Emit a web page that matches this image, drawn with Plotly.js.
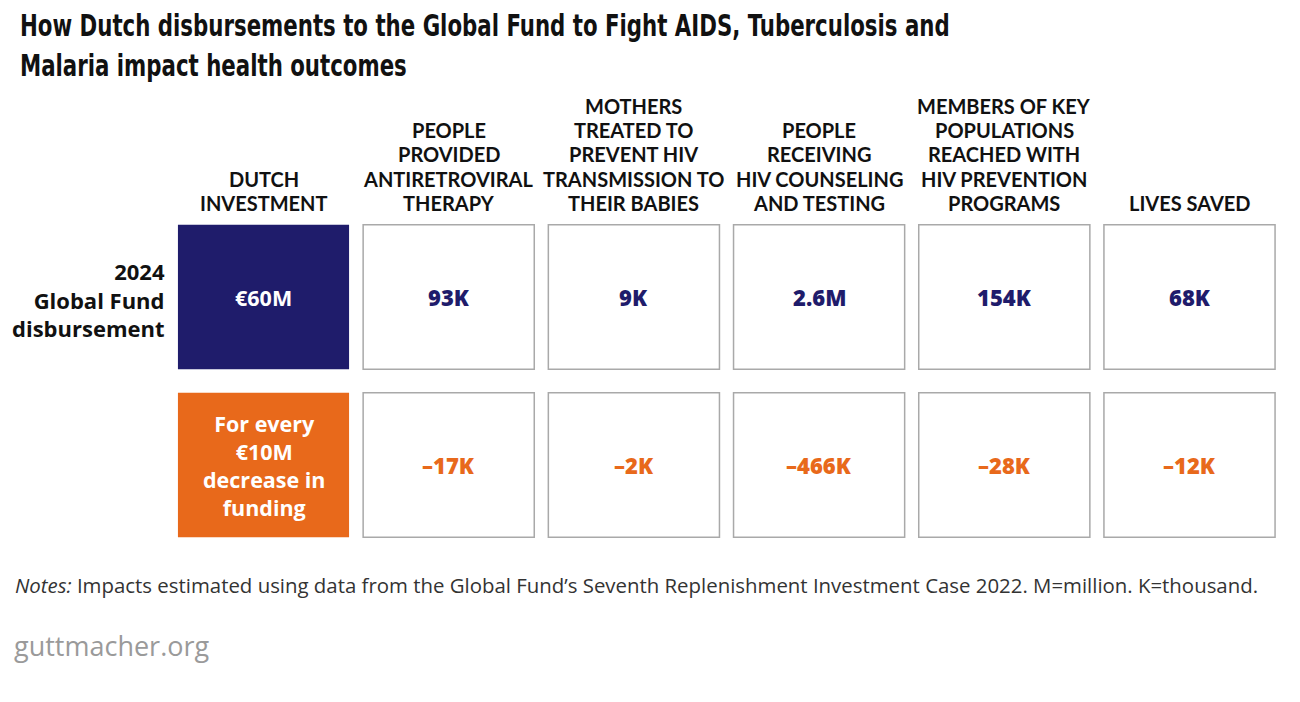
<!DOCTYPE html>
<html>
<head>
<meta charset="utf-8">
<script src="https://cdn.plot.ly/plotly-3.0.1.min.js"></script>
<style>html,body{margin:0;padding:0;background:#fff;}#chart{width:1300px;height:702px;}</style>
</head>
<body>
<div id="chart"></div>
<script>
// ---- data ----
const columnHeaders = [
  "DUTCH<br>INVESTMENT",
  "PEOPLE<br>PROVIDED<br>ANTIRETROVIRAL<br>THERAPY",
  "MOTHERS<br>TREATED TO<br>PREVENT HIV<br>TRANSMISSION TO<br>THEIR BABIES",
  "PEOPLE<br>RECEIVING<br>HIV COUNSELING<br>AND TESTING",
  "MEMBERS OF KEY<br>POPULATIONS<br>REACHED WITH<br>HIV PREVENTION<br>PROGRAMS",
  "LIVES SAVED"
];
const rowLabels = ["2024<br>Global Fund<br>disbursement", ""];
const investmentLabels = ["€60M", "For every<br>€10M<br>decrease in<br>funding"];
const disbursementImpact = ["93K", "9K", "2.6M", "154K", "68K"];
const decreaseImpact = ["\u201317K", "\u20132K", "\u2013466K", "\u201328K", "\u201312K"];
const titleText = "How Dutch disbursements to the Global Fund to Fight AIDS, Tuberculosis and<br>Malaria impact health outcomes";
const notesText = "<i>Notes:</i> Impacts estimated using data from the Global Fund’s Seventh Replenishment Investment Case 2022. M=million. K=thousand.";
const sourceText = "guttmacher.org";

// ---- styles ----
const NAVY = "#1f1c6b";
const ORANGE = "#e8691b";
const BORDER = "#a9a9a9";
const rowFills = [NAVY, ORANGE];
const rowTextColors = [NAVY, ORANGE];
const halfW = 0.462, halfH = 0.43;
const BODY_FONT = "'Open Sans', Lato, sans-serif";
const HEAD_FONT = "Lato, 'Open Sans', sans-serif";

const pxPerX = 185.2, x0px = 263.5;
const pxPerY = 168, y0px = 297;
const headLinePx = 24.3;      // header line spacing in pixels
const headBottomPx = 203;     // centre of the last header line

const shapes = [];
const annotations = [];
const impactRows = [disbursementImpact, decreaseImpact];

// title (as annotation, condensed after render)
annotations.push({x: 18/1300, y: 1 - 5/702, xref: "paper", yref: "paper", showarrow: false,
  xanchor: "left", yanchor: "top", align: "left",
  text: "<b>" + titleText + "</b>",
  font: {family: "'DejaVu Sans Condensed', 'DejaVu Sans', sans-serif", size: 31, color: "#111"}});

// header annotations, one per line
columnHeaders.forEach((h, i) => {
  const lines = h.split("<br>");
  lines.forEach((ln, k) => {
    const fromBottom = lines.length - 1 - k;
    annotations.push({
      x: i, y: (headBottomPx - fromBottom * headLinePx - y0px) / pxPerY, xref: "x", yref: "y",
      text: "<b>" + ln + "</b>", showarrow: false,
      xanchor: "center", yanchor: "middle", align: "center",
      font: {family: HEAD_FONT, size: 20, color: "#111"}
    });
  });
});

// rows
impactRows.forEach((vals, r) => {
  shapes.push({type: "rect", xref: "x", yref: "y",
    x0: -halfW, x1: halfW, y0: r - halfH, y1: r + halfH,
    fillcolor: rowFills[r], line: {width: 0}});
  annotations.push({x: 0, y: r, xref: "x", yref: "y", showarrow: false,
    text: "<b>" + investmentLabels[r] + "</b>", align: "center",
    font: {family: BODY_FONT, size: 21.5, color: "#fff"}});
  if (rowLabels[r]) {
    annotations.push({x: -halfW - 0.06, y: r + 0.012, xref: "x", yref: "y", showarrow: false,
      text: "<b>" + rowLabels[r] + "</b>", xanchor: "right", align: "right",
      font: {family: BODY_FONT, size: 22, color: "#111"}});
  }
  vals.forEach((v, j) => {
    const c = j + 1;
    shapes.push({type: "rect", xref: "x", yref: "y",
      x0: c - halfW, x1: c + halfW, y0: r - halfH, y1: r + halfH,
      fillcolor: "#fff", line: {color: BORDER, width: 1.5}});
    annotations.push({x: c, y: r, xref: "x", yref: "y", showarrow: false,
      text: v,
      font: {family: BODY_FONT, size: 22, weight: 800, color: rowTextColors[r]}});
  });
});

// notes & source
annotations.push({x: 13/1300, y: 1 - 585/702, xref: "paper", yref: "paper", showarrow: false,
  xanchor: "left", yanchor: "middle", text: notesText,
  font: {family: "'Open Sans', sans-serif", size: 20.4, color: "#333"}});
annotations.push({x: 12/1300, y: 1 - 645/702, xref: "paper", yref: "paper", showarrow: false,
  xanchor: "left", yanchor: "middle", text: sourceText,
  font: {family: "'Open Sans', sans-serif", size: 27, color: "#9a9a9a"}});

const layout = {
  width: 1300, height: 702,
  margin: {l: 0, r: 0, t: 0, b: 0},
  paper_bgcolor: "#fff", plot_bgcolor: "#fff",
  showlegend: false,
  xaxis: {range: [-x0px/pxPerX, (1300 - x0px)/pxPerX], visible: false, fixedrange: true},
  yaxis: {range: [(702 - y0px)/pxPerY, -y0px/pxPerY], visible: false, fixedrange: true},
  shapes: shapes,
  annotations: annotations
};

Plotly.newPlot("chart", [{x: [0], y: [0], type: "scatter", mode: "markers", marker: {opacity: 0}, hoverinfo: "skip"}], layout, {displayModeBar: false, staticPlot: true}).then(gd => {
  // condense the title horizontally to the reference width (~930px for line 1)
  const t = gd.querySelector('.annotation[data-index="0"] .annotation-text');
  if (t) {
    const bb = t.getBBox();
    const s = 930 / bb.width;
    const x0 = bb.x;
    t.setAttribute("transform", `translate(${x0},0) scale(${s},1) translate(${-x0},0)`);
  }
});
</script>
</body>
</html>
